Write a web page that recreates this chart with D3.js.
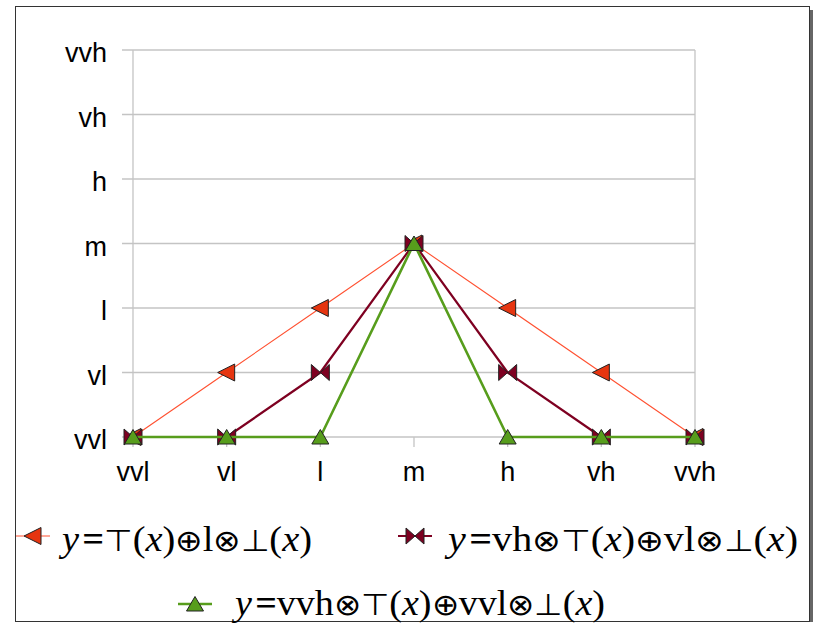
<!DOCTYPE html>
<html>
<head>
<meta charset="utf-8">
<script src="https://cdn.jsdelivr.net/npm/d3@7"></script>
<style>
  body { margin: 0; background: #fff; }
  svg { display: block; }
</style>
</head>
<body>
<div class="chart"></div>
<script>
// linguistic levels used on both axes
var levels = ["vvl", "vl", "l", "m", "h", "vh", "vvh"];
var xCats = ["vvl", "vl", "l", "m", "h", "vh", "vvh"];

// series values
var series1 = ["vvl", "vl", "l", "m", "l", "vl", "vvl"];
var series2 = ["vvl", "vvl", "vl", "m", "vl", "vvl", "vvl"];
var series3 = ["vvl", "vvl", "vvl", "m", "vvl", "vvl", "vvl"];

// legend formulas, split into pieces [text, style]
var legend1 = [["y", "i"], ["=", "b"], ["\u22A4", "o"], ["(", ""], ["x", "i"], [")", ""], ["\u2295", "o"], ["l", ""], ["\u2297", "o"], ["\u22A5", "o"], ["(", ""], ["x", "i"], [")", ""]];
var legend2 = [["y", "i"], ["=", "b"], ["vh", ""], ["\u2297", "o"], ["\u22A4", "o"], ["(", ""], ["x", "i"], [")", ""], ["\u2295", "o"], ["vl", ""], ["\u2297", "o"], ["\u22A5", "o"], ["(", ""], ["x", "i"], [")", ""]];
var legend3 = [["y", "i"], ["=", "b"], ["vvh", ""], ["\u2297", "o"], ["\u22A4", "o"], ["(", ""], ["x", "i"], [")", ""], ["\u2295", "o"], ["vvl", ""], ["\u2297", "o"], ["\u22A5", "o"], ["(", ""], ["x", "i"], [")", ""]];

var width = 817,
    height = 623;

var svg = d3.select(".chart")
  .append("svg")
  .attr("width", width)
  .attr("height", height);

// outer frame with a little shadow on the right
svg.append("rect")
  .attr("x", 810).attr("y", 10)
  .attr("width", 3).attr("height", 612)
  .attr("fill", "#666");
svg.append("rect")
  .attr("x", 15.5).attr("y", 6.5)
  .attr("width", 794).attr("height", 615)
  .attr("fill", "#fff")
  .attr("stroke", "#333")
  .attr("stroke-width", 1);

var x = d3.scalePoint()
  .domain(xCats)
  .range([133, 695]);

var y = d3.scalePoint()
  .domain(levels)
  .range([437, 50]);

var grid = "#c4c4c4";

// horizontal grid lines + small outward ticks
svg.selectAll(".hgrid")
  .data(levels)
  .enter()
  .append("line")
  .attr("x1", 122)
  .attr("x2", 695)
  .attr("y1", function(d){ return y(d); })
  .attr("y2", function(d){ return y(d); })
  .attr("stroke", grid)
  .attr("stroke-width", 1.3);

// left axis line and right border of plot
svg.append("line")
  .attr("x1", 133).attr("x2", 133)
  .attr("y1", 50).attr("y2", 437)
  .attr("stroke", grid).attr("stroke-width", 1.3);
svg.append("line")
  .attr("x1", 695).attr("x2", 695)
  .attr("y1", 50).attr("y2", 437)
  .attr("stroke", grid).attr("stroke-width", 1.3);

// x ticks
svg.selectAll(".xtick")
  .data(xCats)
  .enter()
  .append("line")
  .attr("x1", function(d){ return x(d); })
  .attr("x2", function(d){ return x(d); })
  .attr("y1", 437).attr("y2", 447)
  .attr("stroke", grid)
  .attr("stroke-width", 1.3);

// y labels
svg.selectAll(".ylab")
  .data(levels)
  .enter()
  .append("text")
  .attr("x", 107)
  .attr("y", function(d){ return y(d) + 12; })
  .attr("text-anchor", "end")
  .style("font-family", "Liberation Sans, Arial, sans-serif")
  .style("font-size", "27px")
  .text(function(d){ return d; });

// x labels
svg.selectAll(".xlab")
  .data(xCats)
  .enter()
  .append("text")
  .attr("x", function(d){ return x(d); })
  .attr("y", 481)
  .attr("text-anchor", "middle")
  .style("font-family", "Liberation Sans, Arial, sans-serif")
  .style("font-size", "27px")
  .text(function(d){ return d; });

// marker shapes
var shapes = {
  left: "M-9,0L8,-8.5L8,8.5Z",
  bowtie: "M-9,-8L0,0L-9,8Z M9,-8L0,0L9,8Z",
  up: "M0,-7.5L8.5,7L-8.5,7Z"
};

var series = [
  {vals: series1, line: "#ff5030", lw: 1.1, fill: "#e63510", shape: "left", leg: legend1, lx: 33, ly: 536, tx: 62, tw: 250, ty: 551},
  {vals: series2, line: "#7e0021", lw: 2.2, fill: "#7e0021", shape: "bowtie", leg: legend2, lx: 415, ly: 536, tx: 448, tw: 350, ty: 551},
  {vals: series3, line: "#579d1c", lw: 2.6, fill: "#579d1c", shape: "up", leg: legend3, lx: 195, ly: 604, tx: 235, tw: 370, ty: 615}
];

var line = d3.line()
  .x(function(d, i){ return x(xCats[i]); })
  .y(function(d){ return y(d); });

series.forEach(function(s){
  svg.append("path")
    .attr("d", line(s.vals))
    .attr("fill", "none")
    .attr("stroke", s.line)
    .attr("stroke-width", s.lw)
    .attr("stroke-linejoin", "round");

  svg.selectAll(null)
    .data(s.vals)
    .enter()
    .append("path")
    .attr("transform", function(d, i){ return "translate(" + x(xCats[i]) + "," + y(d) + ")"; })
    .attr("d", shapes[s.shape])
    .attr("fill", s.fill)
    .attr("stroke", "#222")
    .attr("stroke-width", 1);
});

// legend
series.forEach(function(s){
  svg.append("line")
    .attr("x1", s.lx - 17).attr("x2", s.lx + 17)
    .attr("y1", s.ly).attr("y2", s.ly)
    .attr("stroke", s.line)
    .attr("stroke-width", s.lw);
  svg.append("path")
    .attr("transform", "translate(" + s.lx + "," + s.ly + ")")
    .attr("d", shapes[s.shape])
    .attr("fill", s.fill)
    .attr("stroke", "#222")
    .attr("stroke-width", 1);

  var t = svg.append("text")
    .attr("x", s.tx)
    .attr("y", s.ty)
    .attr("textLength", s.tw)
    .attr("lengthAdjust", "spacingAndGlyphs")
    .style("font-family", "Liberation Serif, Times New Roman, serif")
    .style("font-size", "35px");
  s.leg.forEach(function(p){
    var ts = t.append("tspan").text(p[0]);
    if (p[1] == "i") ts.style("font-style", "italic");
    if (p[1] == "b") ts.style("font-weight", "bold").attr("dx", 3);
    if (p[1] == "o") ts.style("font-family", "DejaVu Sans, sans-serif").style("font-weight", 200).style("font-size", "30px");
  });
});
</script>
</body>
</html>
